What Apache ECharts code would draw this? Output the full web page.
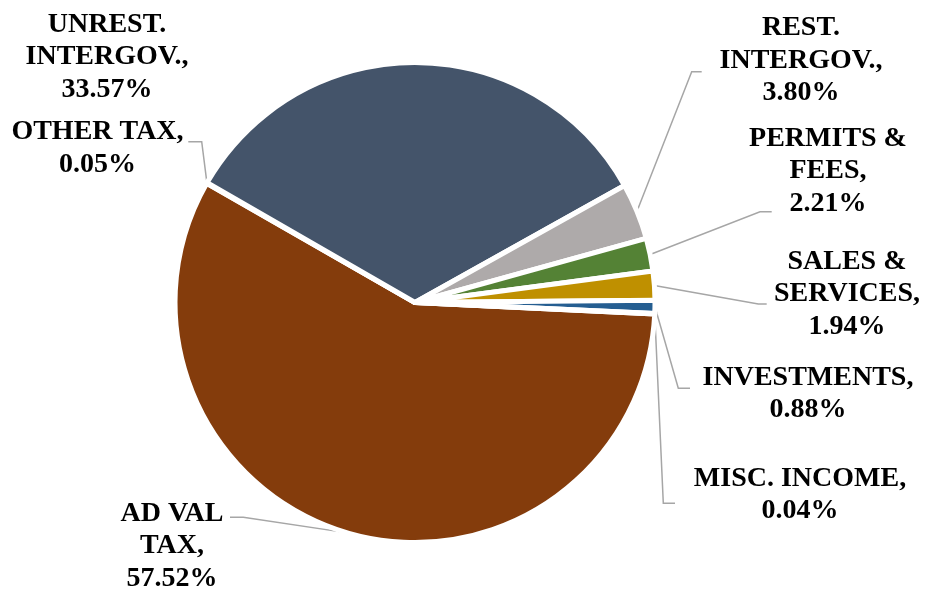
<!DOCTYPE html>
<html>
<head>
<meta charset="utf-8">
<script src="https://cdn.jsdelivr.net/npm/echarts@6/dist/echarts.min.js"></script>
<style>
  html, body { margin: 0; padding: 0; background: #ffffff; }
  #chart { width: 925px; height: 591px; }
</style>
</head>
<body>
<div id="chart"></div>
<script>
// ---- data ----
const categories = [
  'AD VAL\nTAX',
  'OTHER TAX',
  'UNREST.\nINTERGOV.',
  'REST.\nINTERGOV.',
  'PERMITS &\nFEES',
  'SALES &\nSERVICES',
  'INVESTMENTS',
  'MISC. INCOME'
];
const values = [57.52, 0.05, 33.57, 3.80, 2.21, 1.94, 0.88, 0.04];

// ---- styles / layout (not data) ----
const colors = ['#843C0C', '#C55A11', '#44546A', '#AEAAAA', '#548235', '#BF9000', '#255E91', '#9E480E'];
const labelCenters = [
  [172, 546], [97.5, 148.5], [107, 57], [801, 60.5],
  [828, 171], [847, 294], [808, 394], [800, 495]
];
// leader: [elbow, end]; null = no leader
const leaders = [
  [[243.3, 517.3], [230, 517.3]],
  [[201.7, 141.7], [188.3, 141.7]],
  null,
  [[691.7, 71.7], [701.7, 71.7]],
  [[760, 211.7], [771.7, 211.7]],
  [[758.3, 304], [766.7, 304]],
  [[678.3, 388.3], [690, 388.3]],
  [[663.3, 503.3], [675, 503.3]]
];

const seriesData = categories.map((name, i) => ({
  name: name,
  value: values[i],
  itemStyle: { color: colors[i] },
  labelLine: { show: leaders[i] !== null }
}));

const chart = echarts.init(document.getElementById('chart'), null, { renderer: 'canvas' });
chart.setOption({
  animation: false,
  backgroundColor: '#ffffff',
  series: [{
    type: 'pie',
    center: [415, 302.5],
    radius: [0, 240],
    startAngle: -2.75,
    clockwise: true,
    avoidLabelOverlap: false,
    itemStyle: { borderColor: '#ffffff', borderWidth: 5 },
    label: {
      show: true,
      position: 'outside',
      formatter: p => p.name + ',\n' + p.value.toFixed(2) + '%',
      fontFamily: 'Liberation Serif',
      fontWeight: 'bold',
      fontSize: 28,
      lineHeight: 32.5,
      color: '#000000',
      align: 'center'
    },
    labelLine: {
      show: true,
      lineStyle: { color: '#A6A6A6', width: 1.5 }
    },
    labelLayout: function (params) {
      const i = params.dataIndex;
      const out = {
        x: labelCenters[i][0],
        y: labelCenters[i][1],
        align: 'center',
        verticalAlign: 'middle'
      };
      if (leaders[i] && params.labelLinePoints) {
        out.labelLinePoints = [params.labelLinePoints[0], leaders[i][0], leaders[i][1]];
      }
      return out;
    },
    data: seriesData
  }]
});
</script>
</body>
</html>
